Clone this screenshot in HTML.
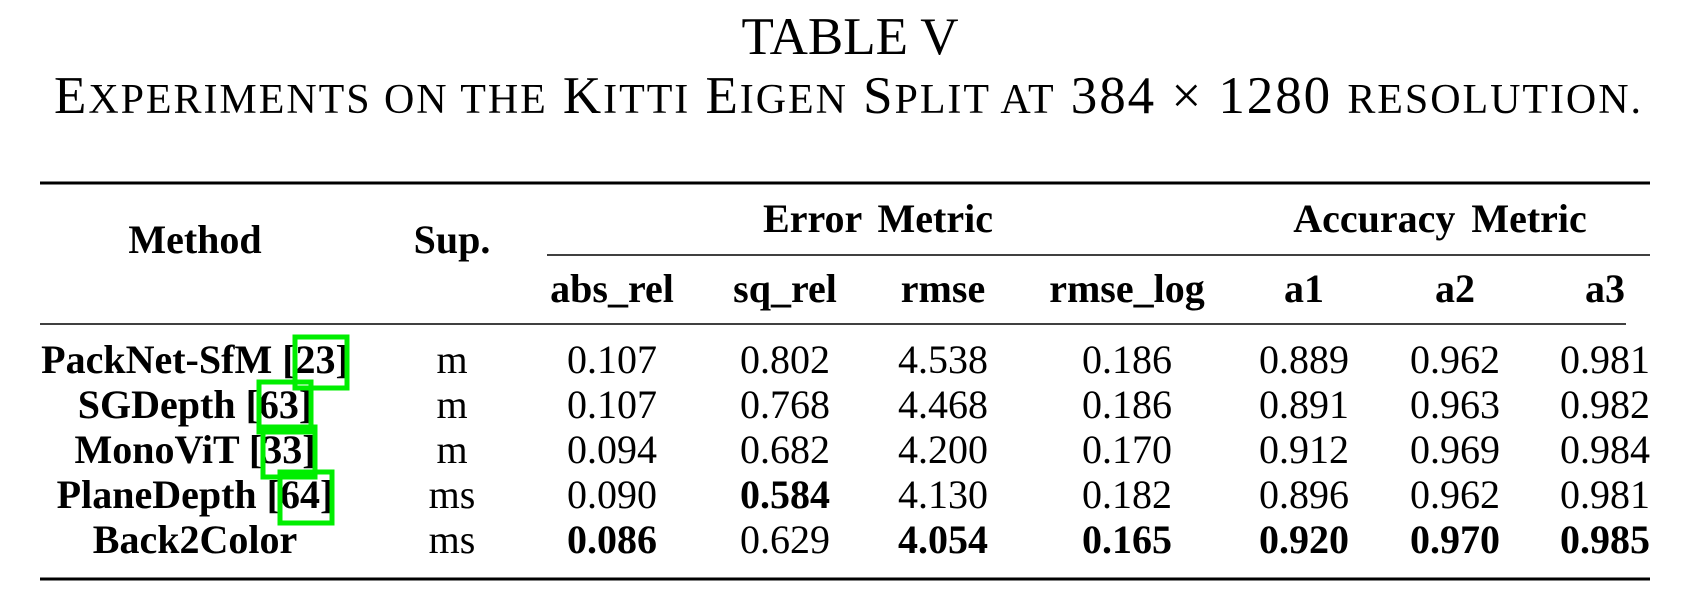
<!DOCTYPE html>
<html><head><meta charset="utf-8">
<style>
html,body{margin:0;padding:0;background:#fff;}
svg{display:block;}
text{font-family:"Liberation Serif",serif;fill:#000;}
.b{font-weight:bold;}
</style></head>
<body>
<svg width="1690" height="612" viewBox="0 0 1690 612">
<text x="850" y="54" font-size="53" text-anchor="middle">TABLE V</text>
<text x="54" y="113" font-size="53" textLength="1587" lengthAdjust="spacing">E<tspan font-size="42">XPERIMENTS ON THE</tspan> K<tspan font-size="42">ITTI</tspan> E<tspan font-size="42">IGEN</tspan> S<tspan font-size="42">PLIT AT</tspan> 384 × 1280 <tspan font-size="42">RESOLUTION.</tspan></text>

<line x1="40" y1="183" x2="1650" y2="183" stroke="#000" stroke-width="3"/>
<line x1="547" y1="255" x2="1650" y2="255" stroke="#000" stroke-width="1.5"/>
<line x1="40" y1="324" x2="1626" y2="324" stroke="#000" stroke-width="1.5"/>
<line x1="40" y1="579" x2="1650" y2="579" stroke="#000" stroke-width="3"/>

<g font-size="40" class="b" text-anchor="middle">
<text x="195" y="253" class="b">Method</text>
<text x="452" y="253" class="b">Sup.</text>
<text x="878" y="232" class="b" word-spacing="6">Error Metric</text>
<text x="1440" y="232" class="b" word-spacing="6">Accuracy Metric</text>
<text x="612" y="302" class="b">abs_rel</text>
<text x="785" y="302" class="b">sq_rel</text>
<text x="943" y="302" class="b">rmse</text>
<text x="1127" y="302" class="b">rmse_log</text>
<text x="1304" y="302" class="b">a1</text>
<text x="1455" y="302" class="b">a2</text>
<text x="1605" y="302" class="b">a3</text>
</g>

<g font-size="40" text-anchor="middle">
<text x="195" y="373" class="b">PackNet-SfM [23]</text>
<text x="195" y="418" class="b">SGDepth [63]</text>
<text x="195" y="463" class="b">MonoViT [33]</text>
<text x="195" y="508" class="b">PlaneDepth [64]</text>
<text x="195" y="553" class="b">Back2Color</text>

<text x="452" y="373">m</text>
<text x="452" y="418">m</text>
<text x="452" y="463">m</text>
<text x="452" y="508">ms</text>
<text x="452" y="553">ms</text>

<g>
<text x="612" y="373">0.107</text><text x="785" y="373">0.802</text><text x="943" y="373">4.538</text><text x="1127" y="373">0.186</text><text x="1304" y="373">0.889</text><text x="1455" y="373">0.962</text><text x="1605" y="373">0.981</text>
</g>
<g>
<text x="612" y="418">0.107</text><text x="785" y="418">0.768</text><text x="943" y="418">4.468</text><text x="1127" y="418">0.186</text><text x="1304" y="418">0.891</text><text x="1455" y="418">0.963</text><text x="1605" y="418">0.982</text>
</g>
<g>
<text x="612" y="463">0.094</text><text x="785" y="463">0.682</text><text x="943" y="463">4.200</text><text x="1127" y="463">0.170</text><text x="1304" y="463">0.912</text><text x="1455" y="463">0.969</text><text x="1605" y="463">0.984</text>
</g>
<g>
<text x="612" y="508">0.090</text><text x="785" y="508" class="b">0.584</text><text x="943" y="508">4.130</text><text x="1127" y="508">0.182</text><text x="1304" y="508">0.896</text><text x="1455" y="508">0.962</text><text x="1605" y="508">0.981</text>
</g>
<g>
<text x="612" y="553" class="b">0.086</text><text x="785" y="553">0.629</text><text x="943" y="553" class="b">4.054</text><text x="1127" y="553" class="b">0.165</text><text x="1304" y="553" class="b">0.920</text><text x="1455" y="553" class="b">0.970</text><text x="1605" y="553" class="b">0.985</text>
</g>
</g>

<g fill="none" stroke="#00ee00" stroke-width="5">
<rect x="295" y="337" width="52" height="51"/>
<rect x="259" y="382" width="52" height="50"/>
<rect x="263" y="427" width="52" height="50"/>
<rect x="280" y="472" width="52" height="51"/>
</g>
</svg>
</body></html>
